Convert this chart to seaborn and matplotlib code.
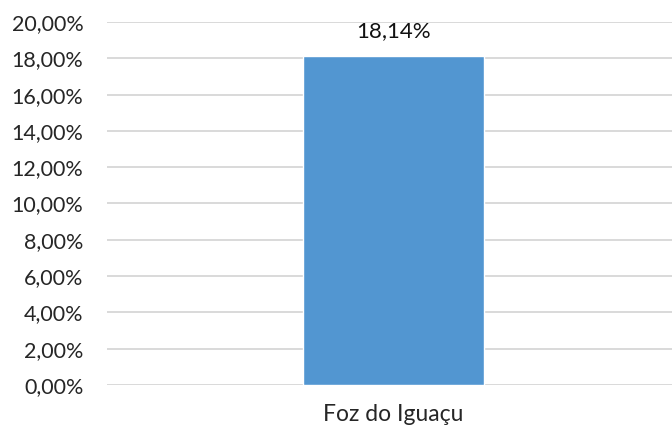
import matplotlib
matplotlib.use("Agg")
import matplotlib.pyplot as plt
import seaborn as sns
import pandas as pd

# Dados
categorias = ['Foz do Iguaçu']
valores = [18.14]
ticks_y = [0, 2, 4, 6, 8, 10, 12, 14, 16, 18, 20]

df = pd.DataFrame({'Cidade': categorias, 'Percentual': valores})

sns.set_style("white")
plt.rcParams['font.family'] = ['Lato', 'DejaVu Sans']

fig = plt.figure(figsize=(6.72, 4.34), dpi=100)
ax = fig.add_axes([107/672, 49/434, 565/672, 363/434])

sns.barplot(data=df, x='Cidade', y='Percentual', color='#5296D1', width=0.32,
            saturation=1, ax=ax, zorder=3)

ax.set_ylim(0, 20)
ax.set_xlim(-0.507, 0.493)
ax.set_yticks(ticks_y)
ax.set_yticklabels([f'{t:.2f}%'.replace('.', ',') for t in ticks_y], fontsize=15.5)
ax.tick_params(axis='x', labelsize=16.5, length=0, pad=14)
ax.tick_params(axis='y', length=0, pad=17)
ax.yaxis.grid(True, color='#d9d9d9', linewidth=1.4, zorder=0)
ax.set_xlabel('')
ax.set_ylabel('')
for s in ax.spines.values():
    s.set_visible(False)

# Rótulo de valor
for i, v in enumerate(valores):
    ax.text(i, v + 0.8, f'{v:.2f}%'.replace('.', ','), ha='center', va='bottom',
            fontsize=16, color='#111111')

plt.savefig('out.png', dpi=100)
